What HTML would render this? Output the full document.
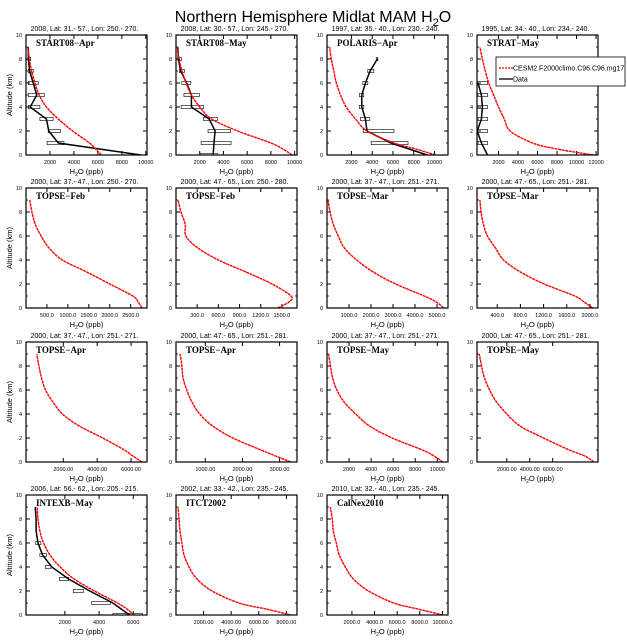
<!DOCTYPE html>
<html><head><meta charset="utf-8">
<style>
html,body{margin:0;padding:0;background:#fff;}
svg{display:block;font-family:"Liberation Sans",sans-serif;}
</style></head>
<body>
<svg id="fig" width="627" height="641" viewBox="0 0 627 641">
<text x="313" y="22" font-size="16" text-anchor="middle">Northern Hemisphere Midlat MAM H<tspan font-size="11" dy="4">2</tspan><tspan dy="-4">O</tspan></text>
</svg>
<script>
// shared altitude levels (km)
const modelAlt = [0,0.5,1,2,3,4,5,6,7,8,9];
const obsAlt = [0,1,2,3,4,5,6,7,8,9];
// model H2O (ppb) per panel
const m1 = [6300,5800,5300,3900,2700,1700,1100,750,470,280,150];
const m2 = [9800,9000,8000,5200,3000,2000,1300,850,500,250,100];
const m3 = [10100,8200,6100,3500,2400,1500,950,550,300,60,-100];
const m4 = [11700,8000,5500,3200,2600,2000,1500,1000,650,350,100];
const m5 = [2770,2680,2550,2000,1450,870,550,360,220,140,90];
const m6 = [1440,1600,1630,1360,990,600,310,140,130,70,30];
const m7 = [5300,4970,4420,3120,2100,1350,790,510,280,140,50];
const m8 = [2050,1900,1740,1210,800,510,370,230,160,120,100];
const m9 = [6650,6100,5600,4330,2940,1950,1390,950,720,560,440];
const m10 = [3300,2900,2500,1740,1200,850,640,500,400,370,320];
const m11 = [10500,9700,8650,5900,3850,2600,1550,900,510,320,140];
const m12 = [9600,8800,7450,5200,3150,2000,1100,500,50,-200,-400];
const m13 = [6050,5620,5080,3730,2540,1730,1130,760,540,430,380];
const m14 = [8330,6520,4560,2610,1520,940,580,430,290,220,150];
const m15 = [10040,7820,5690,3470,2130,1420,890,620,360,270,90];
// observations (ppb): mean, min, max
const d1 = [9600,2700,1900,1700,350,900,600,300,200,190];
const d1lo = [null,1760,1850,1160,190,190,190,190,150,null];
const d1hi = [null,3170,2870,2260,1160,1520,1020,600,400,null];
const d2 = [3130,3200,3300,2800,1300,1300,900,400,200,150];
const d2lo = [2030,2120,2700,2320,430,670,490,300,150,null];
const d2hi = [3480,4640,4580,3480,2320,1970,1250,700,450,null];
const d3 = [9300,5800,3500,3350,3000,3000,3350,3800,4500,null];
const d3lo = [null,3900,3130,2870,2770,2770,3100,3580,4390,null];
const d3hi = [null,7450,6100,3770,3190,3190,3580,4160,4550,null];
const d4 = [880,250,-175,250,350,250,-100,null,null,null];
const d4lo = [null,-175,-175,-175,-175,-175,-175,null,null,null];
const d4hi = [null,880,880,880,880,880,880,null,null,null];
const d13 = [5780,4810,3460,2220,1240,700,430,320,320,270];
const d13lo = [4810,3570,2490,1680,860,540,300,null,null,null];
const d13hi = [6540,4650,3080,2220,1190,920,600,null,null,null];
// tick labels
const t1 = [2000,4000,6000,8000,10000];
const t3 = [2000,4000,6000,8000,10000];
const t4 = [2000,4000,6000,8000,10000,12000];
const t5 = ["500.0","1000.0","1500.0","2000.0","2500.0"];
const t6 = ["300.0","600.0","900.0","1200.0","1500.0"];
const t7 = ["1000.0","2000.0","3000.0","4000.0","5000.0"];
const t8 = ["400.0","800.0","1200.0","1600.0","2000.0"];
const t9 = ["2000.00","4000.00","6000.00"];
const t10 = ["1000.00","2000.00","3000.00"];
const t12 = ["2000.00","4000.00","6000.00"];
const t13 = [2000,4000,6000];
const t14 = ["2000.00","4000.00","6000.00","8000.00"];
const t15 = ["2000.0","4000.0","6000.0","8000.0","10000.0"];
const yTicks = [0,2,4,6,8,10];

const panels = [
 {r:0,c:0,name:"START08\u2212Apr",sub:"2008, Lat:  31.- 57., Lon: 250.- 270.",xmin:0,xmax:10100,m:m1,d:d1,lo:d1lo,hi:d1hi,t:t1},
 {r:0,c:1,name:"START08\u2212May",sub:"2008, Lat:  30.- 57., Lon: 245.- 270.",xmin:0,xmax:10200,m:m2,d:d2,lo:d2lo,hi:d2hi,t:t1},
 {r:0,c:2,name:"POLARIS\u2212Apr",sub:"1997, Lat: 35.- 40., Lon: 230.- 240.",xmin:-350,xmax:11300,m:m3,d:d3,lo:d3lo,hi:d3hi,t:t3},
 {r:0,c:3,name:"STRAT\u2212May",sub:"1995, Lat: 34.- 40., Lon: 234.- 240.",xmin:-200,xmax:12200,m:m4,d:d4,lo:d4lo,hi:d4hi,t:t4},
 {r:1,c:0,name:"TOPSE\u2212Feb",sub:"2000, Lat: 37.- 47., Lon: 250.- 270.",xmin:0,xmax:2890,m:m5,t:t5},
 {r:1,c:1,name:"TOPSE\u2212Feb",sub:"2000, Lat: 47.- 65., Lon: 250.- 280.",xmin:0,xmax:1714,m:m6,t:t6},
 {r:1,c:2,name:"TOPSE\u2212Mar",sub:"2000, Lat: 37.- 47., Lon: 251.- 271.",xmin:0,xmax:5500,m:m7,t:t7},
 {r:1,c:3,name:"TOPSE\u2212Mar",sub:"2000, Lat: 47.- 65., Lon: 251.- 281.",xmin:50,xmax:2140,m:m8,t:t8},
 {r:2,c:0,name:"TOPSE\u2212Apr",sub:"2000, Lat: 37.- 47., Lon: 251.- 271.",xmin:-200,xmax:6940,m:m9,t:t9},
 {r:2,c:1,name:"TOPSE\u2212Apr",sub:"2000, Lat: 47.- 65., Lon: 251.- 281.",xmin:210,xmax:3470,m:m10,t:t10},
 {r:2,c:2,name:"TOPSE\u2212May",sub:"2000, Lat: 37.- 47., Lon: 251.- 271.",xmin:0,xmax:10970,m:m11,t:t3},
 {r:2,c:3,name:"TOPSE\u2212May",sub:"2000, Lat: 47.- 65., Lon: 251.- 281.",xmin:-600,xmax:9950,m:m12,t:t12},
 {r:3,c:0,name:"INTEXB\u2212May",sub:"2006, Lat: 56.- 62., Lon: 205.- 215.",xmin:-270,xmax:6800,m:m13,d:d13,lo:d13lo,hi:d13hi,t:t13},
 {r:3,c:1,name:"ITCT2002",sub:"2002, Lat: 33.- 42., Lon: 235.- 245.",xmin:0,xmax:8770,m:m14,t:t14},
 {r:3,c:2,name:"CalNex2010",sub:"2010, Lat: 32.- 40., Lon: 235.- 245.",xmin:-200,xmax:10490,m:m15,t:t15}
];
const colX=[26,176,327,477], rowY=[35,188,342,495], W=121, H=120;
const NS="http://www.w3.org/2000/svg";
const svg=document.getElementById('fig');
function mk(tag,attrs,parent){const e=document.createElementNS(NS,tag);for(const k in attrs)e.setAttribute(k,attrs[k]);(parent||svg).appendChild(e);return e;}
function smooth(pts){
 let d='M'+pts[0][0].toFixed(1)+','+pts[0][1].toFixed(1);
 for(let i=0;i<pts.length-1;i++){
  const p0=pts[Math.max(0,i-1)],p1=pts[i],p2=pts[i+1],p3=pts[Math.min(pts.length-1,i+2)];
  const c1=[p1[0]+(p2[0]-p0[0])/6,p1[1]+(p2[1]-p0[1])/6];
  const c2=[p2[0]-(p3[0]-p1[0])/6,p2[1]-(p3[1]-p1[1])/6];
  d+=' C'+c1[0].toFixed(1)+','+c1[1].toFixed(1)+' '+c2[0].toFixed(1)+','+c2[1].toFixed(1)+' '+p2[0].toFixed(1)+','+p2[1].toFixed(1);
 }
 return d;
}

panels.forEach((p,i)=>{
 const x0=colX[p.c], y0=rowY[p.r];
 const g=mk('g',{});
 
 
 const sx=v=>x0+(v-p.xmin)/(p.xmax-p.xmin)*W;
 const sy=z=>y0+H-z/10*H;
 const st=mk('text',{x:x0+W/2-2,y:y0-4,'font-size':7,'text-anchor':'middle'},g);
 st.textContent=p.sub;
 
 
 yTicks.forEach(z=>{
  mk('line',{x1:x0,x2:x0+4,y1:sy(z),y2:sy(z),stroke:'#000','stroke-width':1},g);
  mk('line',{x1:x0+W,x2:x0+W-4,y1:sy(z),y2:sy(z),stroke:'#000','stroke-width':1},g);
  const tl=mk('text',{x:x0-4,y:sy(z)+2,'font-size':5.5,'text-anchor':'end'},g);
  tl.textContent=z;
  
  
 });
 for(let z=1;z<10;z+=2){
  mk('line',{x1:x0,x2:x0+2,y1:sy(z),y2:sy(z),stroke:'#000','stroke-width':0.8},g);
  mk('line',{x1:x0+W,x2:x0+W-2,y1:sy(z),y2:sy(z),stroke:'#000','stroke-width':0.8},g);
 }
 p.t.forEach(lab=>{
  const v=parseFloat(lab), xx=sx(v);
  mk('line',{x1:xx,x2:xx,y1:y0+H,y2:y0+H-4,stroke:'#000','stroke-width':1},g);
  mk('line',{x1:xx,x2:xx,y1:y0,y2:y0+4,stroke:'#000','stroke-width':1},g);
  const tl=mk('text',{x:xx,y:y0+H+9,'font-size':5.5,'text-anchor':'middle'},g);
  tl.textContent=lab;
  
  
 });
 const xl=mk('text',{x:x0+W/2,y:y0+H+19,'font-size':7.5,'text-anchor':'middle'},g);
 xl.innerHTML='H<tspan font-size="5" dy="2">2</tspan><tspan dy="-2">O (ppb)</tspan>';
 
 
 if(p.c===0){
  const yl=mk('text',{x:0,y:0,'font-size':7.5,'text-anchor':'middle',transform:`translate(${x0-14},${y0+H/2}) rotate(-90)`},g);
  yl.textContent='Altitude (km)';
  
  
 }
 const cp=mk('clipPath',{id:'cp'+i},g);
 mk('rect',{x:x0,y:y0,width:W,height:H},cp);
 const plot=mk('g',{'clip-path':`url(#cp${i})`},g);
 if(p.d){
  obsAlt.forEach((z,k)=>{
   if(p.lo[k]==null) return;
   const b=mk('rect',{x:sx(p.lo[k]),y:sy(z)-1.6,width:sx(p.hi[k])-sx(p.lo[k]),height:3.2,fill:'none',stroke:'#000','stroke-width':0.6},plot);
   
   
  });
  const pts=obsAlt.map((z,k)=>p.d[k]==null?null:sx(p.d[k]).toFixed(1)+','+sy(z).toFixed(1)).filter(s=>s);
  const dl=mk('polyline',{points:pts.join(' '),fill:'none',stroke:'#000','stroke-width':1.5},plot);
  
  
 }
 const mp=modelAlt.map((z,k)=>[sx(p.m[k]),sy(z)]);
 const ml=mk('path',{d:smooth(mp),fill:'none',stroke:'#f00','stroke-width':1.4,'stroke-dasharray':'3,0.6','stroke-linejoin':'round'},plot);
 
 
 const fr=mk('rect',{x:x0,y:y0,width:W,height:H,fill:'none',stroke:'#000','stroke-width':1.2},g);
 
 
 const nm=mk('text',{x:x0+10,y:y0+11,'font-size':9,'font-weight':'bold','font-family':'Liberation Serif, serif'},g);
 nm.textContent=p.name;
 
 
});
const lg=mk('g',{});


mk('rect',{x:496,y:57,width:129,height:29,fill:'#fff',stroke:'#000','stroke-width':0.8},lg);
mk('line',{x1:499,x2:513,y1:68,y2:68,stroke:'#f00','stroke-width':1.3,'stroke-dasharray':'2,1'},lg);
mk('line',{x1:499,x2:513,y1:79,y2:79,stroke:'#000','stroke-width':1.3},lg);
const l1=mk('text',{x:513,y:70.5,'font-size':7},lg);
l1.textContent='CESM2.F2000climo.C96.C96.mg17';


const l2=mk('text',{x:513,y:81.5,'font-size':7},lg);
l2.textContent='Data';


</script>
</body></html>
